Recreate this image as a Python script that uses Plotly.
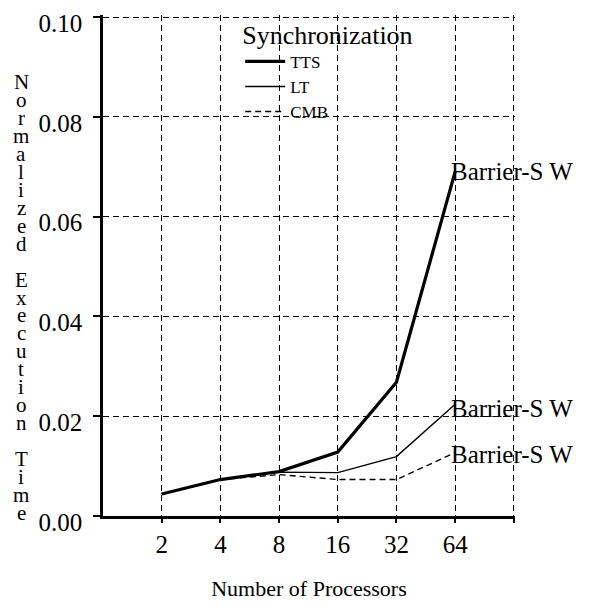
import numpy as np
import plotly.graph_objects as go

processors = [2, 4, 8, 16, 32, 64]
tts = [0.0044, 0.0073, 0.0089, 0.0128, 0.0268, 0.0690]
lt = [0.0044, 0.0073, 0.0088, 0.0087, 0.0119, 0.0224]
cmb = [0.0044, 0.0073, 0.0083, 0.0073, 0.0073, 0.0127]
series_names = ["TTS", "LT", "CMB"]
end_label = "Barrier-S W"
y_title = "Normalized Execution Time"
x_title = "Number of Processors"
y_ticks = [0.00, 0.02, 0.04, 0.06, 0.08, 0.10]

FONT = "Times New Roman, Liberation Serif, DejaVu Serif, serif"
xpos = np.log2(processors)

fig = go.Figure()
styles = [dict(width=3.2, dash="solid"), dict(width=1.4, dash="solid"), dict(width=1.4, dash="6px,4px")]
label_shift = [0, -4, -2]
for name, vals, st, ys in zip(series_names, [tts, lt, cmb], styles, label_shift):
    fig.add_trace(go.Scatter(x=xpos, y=vals, mode="lines", name=name,
                             line=dict(color="black", width=st["width"], dash=st["dash"])))
    fig.add_annotation(x=xpos[-1], y=vals[-1], text=end_label, showarrow=False,
                       xanchor="left", yanchor="middle", xshift=-6, yshift=ys,
                       font=dict(family=FONT, size=25, color="black"))

# page body has an 8px default margin; size the figure to fit the window
OFF = 8
W, H = 596 - OFF, 607 - OFF
ml, mr, mt, mb = 103 - OFF, 81, 15 - OFF, 91
plot_w = W - ml - mr
plot_h = H - mt - mb
# vertical stacked y-axis title
chars = list(y_title)
top_c, bot_c = 82 - OFF, 513 - OFF
step = (bot_c - top_c) / (len(chars) - 1)
for i, ch in enumerate(chars):
    if ch == " ":
        continue
    ypx = top_c + i * step
    fig.add_annotation(xref="paper", yref="paper", x=(21 - OFF - ml) / plot_w,
                       y=(H - mb - ypx) / plot_h, text=ch, showarrow=False,
                       xanchor="center", yanchor="middle",
                       font=dict(family=FONT, size=21, color="black"))

GD = "6px,4px"
fig.update_layout(
    width=W, height=H,
    margin=dict(l=ml, r=mr, t=mt, b=mb, autoexpand=False),
    paper_bgcolor="white", plot_bgcolor="white",
    font=dict(family=FONT, color="black", size=22),
    showlegend=True,
    legend=dict(x=0.333, y=1.01, xanchor="left", yanchor="top",
                bgcolor="rgba(0,0,0,0)", font=dict(family=FONT, size=17),
                title=dict(text="Synchronization", font=dict(family=FONT, size=26)),
                tracegroupgap=0, itemwidth=40),
    xaxis=dict(range=[0, 7.02], tickvals=list(xpos) + [7],
               ticktext=[str(p) for p in processors] + [""],
               showgrid=True, griddash=GD, gridcolor="black", gridwidth=1.4,
               showline=True, linecolor="black", linewidth=2.5,
               ticks="outside", ticklen=4, tickcolor="black", tickwidth=2,
               zeroline=False, automargin=False, ticklabeloverflow="allow",
               title=dict(text=x_title, font=dict(family=FONT, size=22), standoff=24),
               tickfont=dict(family=FONT, size=25)),
    yaxis=dict(range=[0, 0.1004], tickvals=y_ticks, ticktext=[f"{v:.2f}" for v in y_ticks],
               showgrid=True, griddash=GD, gridcolor="black", gridwidth=1.4,
               showline=True, linecolor="black", linewidth=2.5,
               ticks="outside", ticklen=7, tickcolor="black", tickwidth=2,
               ticklabelstandoff=6, ticklabelshift=6, automargin=False,
               ticklabeloverflow="allow",
               zeroline=False, tickfont=dict(family=FONT, size=25)),
)

fig.write_html("out.html")
